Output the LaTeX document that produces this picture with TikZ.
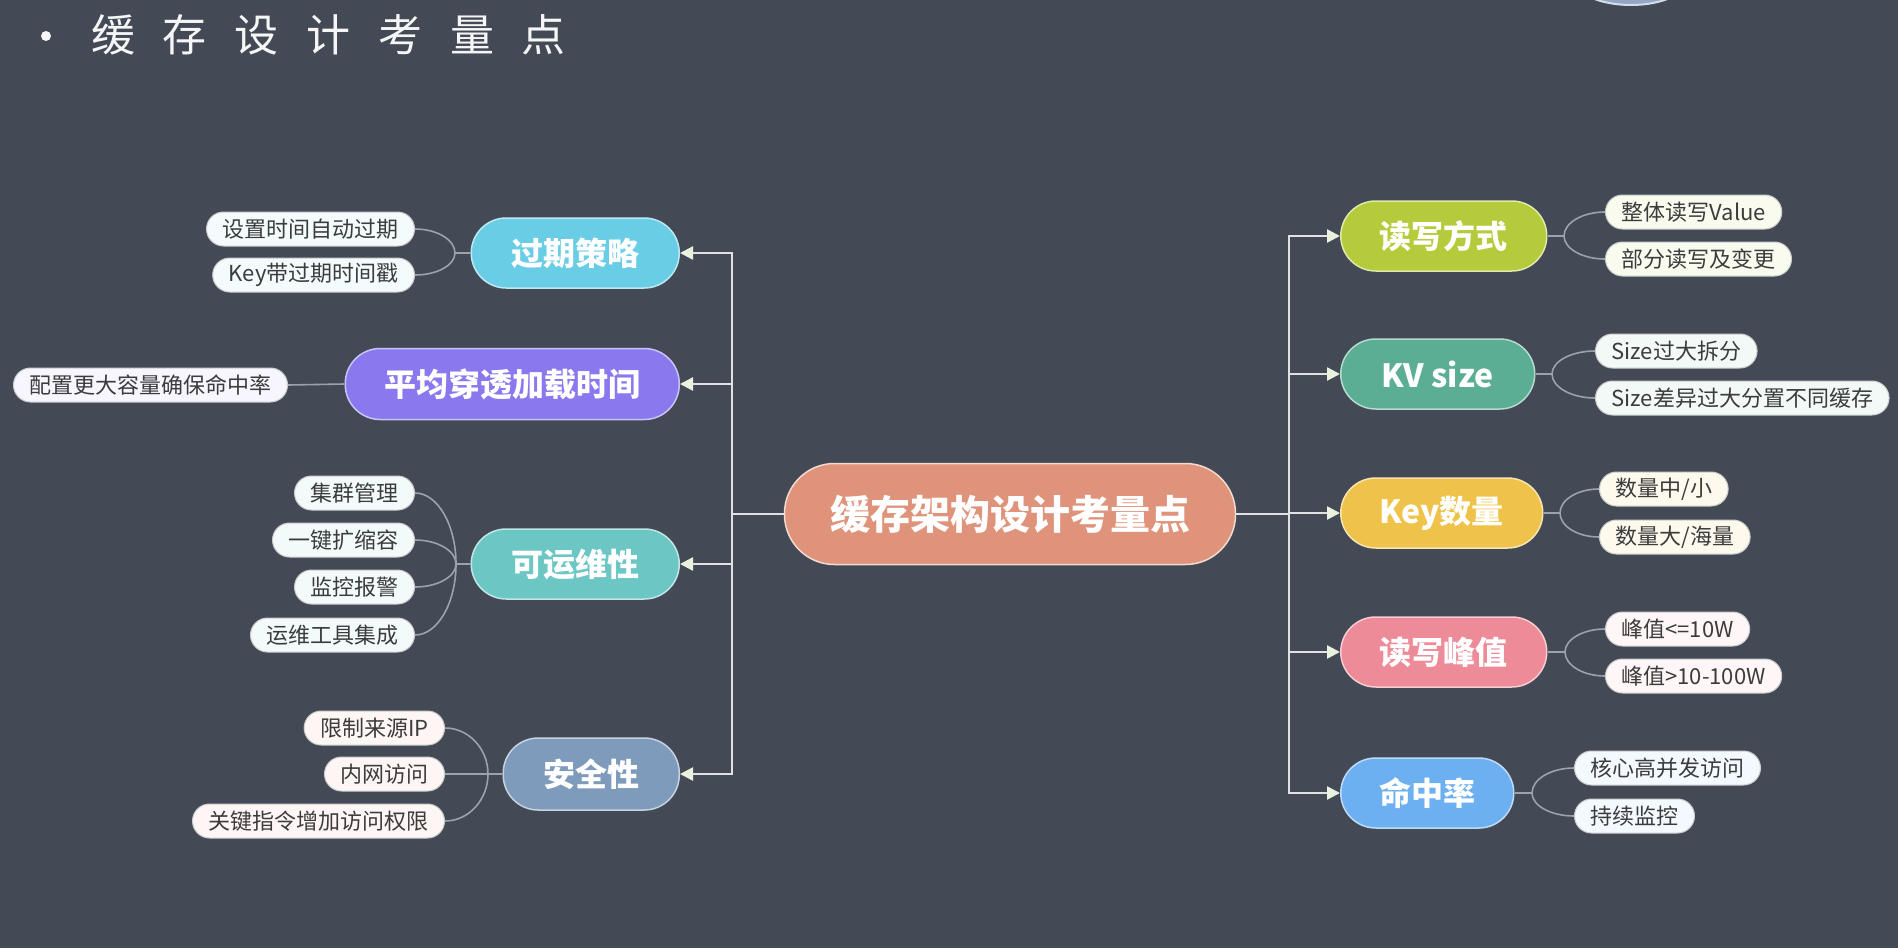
\documentclass[tikz,border=0pt]{standalone}
\usepackage{fontspec}
\setmainfont{Noto Sans CJK SC}
\usetikzlibrary{arrows.meta,calc}
\definecolor{bg}{HTML}{434A56}
\definecolor{trunkc}{HTML}{DDE2E3}
\definecolor{tipc}{HTML}{E9F2DF}
\definecolor{twigc}{HTML}{9AA2AC}
\definecolor{leaffill}{HTML}{F1F3F1}
\definecolor{leafdraw}{HTML}{C9CDCB}
\definecolor{leaftext}{HTML}{3C3C3C}
\definecolor{ellfill}{HTML}{93A7C2}
\definecolor{elldraw}{HTML}{D3DDE8}
\definecolor{cCen}{HTML}{E0937B}
\definecolor{cA}{HTML}{6ACDE6}
\definecolor{cB}{HTML}{8A79EE}
\definecolor{cC}{HTML}{6CC7C4}
\definecolor{cD}{HTML}{7E9BBB}
\definecolor{cE}{HTML}{B6CB3C}
\definecolor{cF}{HTML}{5BAE93}
\definecolor{cG}{HTML}{EFC34A}
\definecolor{cH}{HTML}{EE8B98}
\definecolor{cK}{HTML}{6DB0F2}
\begin{document}
\begin{tikzpicture}[x=1pt,y=-1pt,
  mainnode/.style={rectangle, rounded corners=35pt, minimum height=70pt, inner sep=0pt,
    text=white, font=\fontsize{32}{32}\selectfont\bfseries, line width=1.5pt},
  leaf/.style={rectangle, rounded corners=17pt, minimum height=34pt, inner xsep=16pt, inner ysep=0pt,
    fill=leaffill, draw=leafdraw, line width=1pt, text=leaftext, font=\fontsize{22}{22}\selectfont},
  trunk/.style={draw=trunkc, line width=2.4pt},
  tiparrow/.style={-{Triangle[length=13pt,width=13pt,color=tipc]}},
  twig/.style={draw=twigc, line width=1.6pt}]
\fill[bg] (0,0) rectangle (1898,948);
\useasboundingbox (0,0) rectangle (1898,948);
\begin{scope}
\clip (0,0) rectangle (1898,948);
\draw[fill=ellfill, draw=elldraw, line width=2pt] (1631,-22) ellipse [x radius=58, y radius=27];
\end{scope}
% title
\fill[white!95!bg] (46,36) circle (5);
\node[anchor=west, inner sep=0pt, text=white!95!bg, font=\fontsize{44}{44}\selectfont] (title) at (91,35)
  {缓\hspace{27.8pt}存\hspace{27.8pt}设\hspace{27.8pt}计\hspace{27.8pt}考\hspace{27.8pt}量\hspace{27.8pt}点};
% center
\node[mainnode, rounded corners=50pt, minimum width=451pt, minimum height=101pt, fill=cCen, draw=cCen!35!white,
  font=\fontsize{40}{40}\selectfont\bfseries] (cen) at (1010,514) {缓存架构设计考量点};
% left main nodes
\node[mainnode, anchor=east, minimum width=208pt, fill=cA, draw=cA!45!white] (n1) at (680,253) {过期策略};
\node[mainnode, anchor=east, minimum width=334pt, minimum height=71pt, fill=cB, draw=cB!45!white] (n2) at (680,384) {平均穿透加载时间};
\node[mainnode, anchor=east, minimum width=208pt, fill=cC, draw=cC!45!white] (n3) at (680,564) {可运维性};
\node[mainnode, anchor=east, minimum width=176pt, minimum height=72pt, fill=cD, draw=cD!45!white] (n4) at (680,774) {安全性};
% right main nodes
\node[mainnode, anchor=west, minimum width=206pt, fill=cE, draw=cE!45!white] (r1) at (1340,236) {读写方式};
\node[mainnode, anchor=west, minimum width=194pt, fill=cF, draw=cF!45!white] (r2) at (1340,374) {KV size};
\node[mainnode, anchor=west, minimum width=202pt, fill=cG, draw=cG!45!white] (r3) at (1340,513) {Key数量};
\node[mainnode, anchor=west, minimum width=206pt, fill=cH, draw=cH!45!white] (r4) at (1340,652) {读写峰值};
\node[mainnode, anchor=west, minimum width=173pt, fill=cK, draw=cK!45!white] (r5) at (1340,793) {命中率};
% trunk connectors
\coordinate (LJ) at (732,514);
\coordinate (RJ) at (1289,514);
\draw[trunk] (cen.west) -- (LJ);
\draw[trunk] (cen.east) -- (RJ);
\foreach \m in {n1,n2,n3,n4} \draw[trunk,tiparrow] (LJ) |- (\m.east);
\foreach \m in {r1,r2,r3,r4,r5} \draw[trunk,tiparrow] (RJ) |- (\m.west);
% left leaves
\node[leaf, anchor=east, fill=white!92!cA] (a1) at (415,229) {设置时间自动过期};
\node[leaf, anchor=east, fill=white!92!cA] (a2) at (415,275) {Key带过期时间戳};
\node[leaf, anchor=east, fill=white!93!cB] (b1) at (288,385) {配置更大容量确保命中率};
\node[leaf, anchor=east, fill=white!92!cC] (c1) at (415,493) {集群管理};
\node[leaf, anchor=east, fill=white!92!cC] (c2) at (415,540) {一键扩缩容};
\node[leaf, anchor=east, fill=white!92!cC] (c3) at (415,587) {监控报警};
\node[leaf, anchor=east, fill=white!92!cC] (c4) at (415,635) {运维工具集成};
\node[leaf, anchor=east, fill=white!92!cCen] (d1) at (445,728) {限制来源IP};
\node[leaf, anchor=east, fill=white!92!cCen] (d2) at (445,774) {内网访问};
\node[leaf, anchor=east, fill=white!92!cCen] (d3) at (445,821) {关键指令增加访问权限};
% right leaves
\node[leaf, anchor=west, fill=white!92!cE] (e1) at (1605,212) {整体读写Value};
\node[leaf, anchor=west, fill=white!92!cE] (e2) at (1605,259) {部分读写及变更};
\node[leaf, anchor=west, fill=white!92!cF] (f1) at (1595,351) {Size过大拆分};
\node[leaf, anchor=west, fill=white!92!cF] (f2) at (1595,398) {Size差异过大分置不同缓存};
\node[leaf, anchor=west, fill=white!90!cG] (g1) at (1599,489) {数量中/小};
\node[leaf, anchor=west, fill=white!90!cG] (g2) at (1599,537) {数量大/海量};
\node[leaf, anchor=west, fill=white!92!cH] (h1) at (1605,629) {峰值<=10W};
\node[leaf, anchor=west, fill=white!92!cH] (h2) at (1605,676) {峰值>10-100W};
\node[leaf, anchor=west, fill=white!92!cK] (k1) at (1574,768) {核心高并发访问};
\node[leaf, anchor=west, fill=white!92!cK] (k2) at (1574,816) {持续监控};
% branch points
\coordinate (BA) at (455,253);
\coordinate (BC) at (456,564);
\coordinate (BD) at (488,774);
\coordinate (BE) at (1564,236);
\coordinate (BF) at (1552,374);
\coordinate (BG) at (1560,513);
\coordinate (BH) at (1565,652);
\coordinate (BK) at (1532,793);
\draw[twig] (n1.west) -- (BA);
\draw[twig] (n3.west) -- (BC);
\draw[twig] (n4.west) -- (BD);
\draw[twig] (b1.east) -- (n2.west);
\draw[twig] (r1.east) -- (BE);
\draw[twig] (r2.east) -- (BF);
\draw[twig] (r3.east) -- (BG);
\draw[twig] (r4.east) -- (BH);
\draw[twig] (r5.east) -- (BK);
\foreach \br/\lf in {BA/a1.east, BA/a2.east, BC/c1.east, BC/c2.east, BC/c3.east, BC/c4.east,
    BD/d1.east, BD/d2.east, BD/d3.east, BE/e1.west, BE/e2.west, BF/f1.west, BF/f2.west,
    BG/g1.west, BG/g2.west, BH/h1.west, BH/h2.west, BK/k1.west, BK/k2.west}
  \draw[twig] (\br) .. controls ($(\br)!0.55!(\br|-\lf)$) and ($(\lf)!0.55!(\lf-|\br)$) .. (\lf);
\end{tikzpicture}
\end{document}
